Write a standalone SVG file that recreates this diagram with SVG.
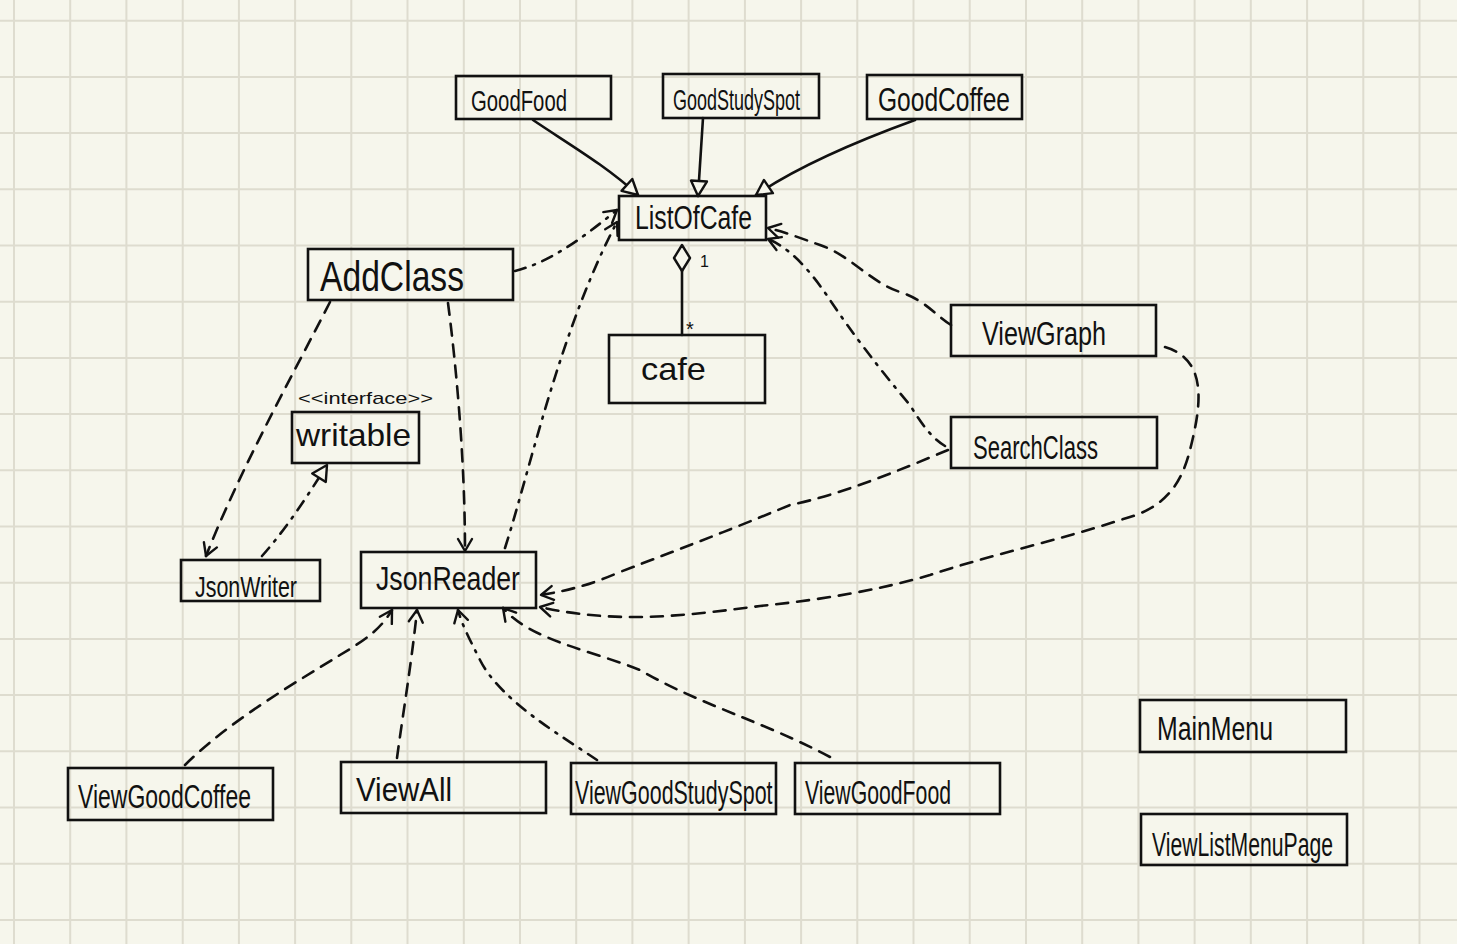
<svg xmlns="http://www.w3.org/2000/svg" width="1457" height="944" viewBox="0 0 1457 944">
<style>
.bg{fill:#f6f6ec}
.grid line{stroke:#dedccf;stroke-width:2}
.box{fill:none;stroke:#111;stroke-width:2.6}
.t{font-family:"Liberation Sans",Arial,sans-serif;fill:#111;font-weight:normal}
.c{fill:none;stroke:#111;stroke-width:2.6;stroke-linecap:round;stroke-linejoin:round}
.d{stroke-dasharray:12 9}
.dd{stroke-dasharray:11 8 2 8}
</style>
<defs>
<marker id="open" viewBox="-14 -9 16 18" refX="0" refY="0" markerWidth="16" markerHeight="18" markerUnits="userSpaceOnUse" orient="auto">
<path d="M-12,-7 L0,0 L-12,7" fill="none" stroke="#111" stroke-width="2.4" stroke-linecap="round" stroke-linejoin="round"/>
</marker>
<marker id="tri" viewBox="-18 -10 20 20" refX="0" refY="0" markerWidth="20" markerHeight="20" markerUnits="userSpaceOnUse" orient="auto">
<path d="M-15,-8 L0,0 L-15,8 Z" fill="#f6f6ec" stroke="#111" stroke-width="2.4" stroke-linejoin="round"/>
</marker>
</defs>
<rect class="bg" x="0" y="0" width="1457" height="944"/>
<g class="grid">
<line x1="14" y1="0" x2="14" y2="944"/><line x1="70.2" y1="0" x2="70.2" y2="944"/><line x1="126.4" y1="0" x2="126.4" y2="944"/><line x1="182.7" y1="0" x2="182.7" y2="944"/><line x1="238.9" y1="0" x2="238.9" y2="944"/><line x1="295.1" y1="0" x2="295.1" y2="944"/><line x1="351.3" y1="0" x2="351.3" y2="944"/><line x1="407.5" y1="0" x2="407.5" y2="944"/><line x1="463.8" y1="0" x2="463.8" y2="944"/><line x1="520" y1="0" x2="520" y2="944"/><line x1="576.2" y1="0" x2="576.2" y2="944"/><line x1="632.4" y1="0" x2="632.4" y2="944"/><line x1="688.6" y1="0" x2="688.6" y2="944"/><line x1="744.9" y1="0" x2="744.9" y2="944"/><line x1="801.1" y1="0" x2="801.1" y2="944"/><line x1="857.3" y1="0" x2="857.3" y2="944"/><line x1="913.5" y1="0" x2="913.5" y2="944"/><line x1="969.7" y1="0" x2="969.7" y2="944"/><line x1="1026" y1="0" x2="1026" y2="944"/><line x1="1082.2" y1="0" x2="1082.2" y2="944"/><line x1="1138.4" y1="0" x2="1138.4" y2="944"/><line x1="1194.6" y1="0" x2="1194.6" y2="944"/><line x1="1250.8" y1="0" x2="1250.8" y2="944"/><line x1="1307.1" y1="0" x2="1307.1" y2="944"/><line x1="1363.3" y1="0" x2="1363.3" y2="944"/><line x1="1419.5" y1="0" x2="1419.5" y2="944"/>
<line x1="0" y1="20.7" x2="1457" y2="20.7"/><line x1="0" y1="76.9" x2="1457" y2="76.9"/><line x1="0" y1="133.1" x2="1457" y2="133.1"/><line x1="0" y1="189.3" x2="1457" y2="189.3"/><line x1="0" y1="245.5" x2="1457" y2="245.5"/><line x1="0" y1="301.7" x2="1457" y2="301.7"/><line x1="0" y1="357.9" x2="1457" y2="357.9"/><line x1="0" y1="414.1" x2="1457" y2="414.1"/><line x1="0" y1="470.3" x2="1457" y2="470.3"/><line x1="0" y1="526.5" x2="1457" y2="526.5"/><line x1="0" y1="582.7" x2="1457" y2="582.7"/><line x1="0" y1="638.9" x2="1457" y2="638.9"/><line x1="0" y1="695.1" x2="1457" y2="695.1"/><line x1="0" y1="751.3" x2="1457" y2="751.3"/><line x1="0" y1="807.5" x2="1457" y2="807.5"/><line x1="0" y1="863.7" x2="1457" y2="863.7"/><line x1="0" y1="919.9" x2="1457" y2="919.9"/>
</g>
<g id="connectors">
<path class="c" d="M533,120 C570,145 605,165 638,195" marker-end="url(#tri)"/>
<path class="c" d="M703,118 L698,196" marker-end="url(#tri)"/>
<path class="c" d="M915,120 C860,140 800,165 756,195" marker-end="url(#tri)"/>
<path class="c" d="M682,335 L682,270"/>
<path d="M682,245 L690,258 L682,271 L674,258 Z" fill="#f6f6ec" stroke="#111" stroke-width="2.4" stroke-linejoin="round"/>
<path class="c dd" d="M515,271 C550,262 580,240 617,210" marker-end="url(#open)"/>
<path class="c dd" d="M505,548 C530,470 560,330 617,222" marker-end="url(#open)"/>
<path class="c d" d="M951,325 C935,315 925,300 900,292 C870,282 850,255 820,245 C800,238 785,232 768,228" marker-end="url(#open)"/>
<path class="c dd" d="M945,446 C935,440 925,430 910,405 C880,370 850,330 830,300 C810,270 790,248 768,239" marker-end="url(#open)"/>
<path class="c d" d="M948,450 C900,470 840,495 790,505 C730,530 690,545 620,572 C590,585 570,590 541,595" marker-end="url(#open)"/>
<path class="c d" d="M1165,347 C1210,360 1200,410 1190,450 C1180,490 1160,510 1120,520 C1060,540 990,555 930,575 C880,590 820,600 760,606 C690,615 620,625 540,607" marker-end="url(#open)"/>
<path class="c d" d="M330,302 C290,380 240,470 206,556" marker-end="url(#open)"/>
<path class="c d" d="M448,303 C458,380 465,470 465,551" marker-end="url(#open)"/>
<path class="c dd" d="M262,556 C285,530 305,500 327,465" marker-end="url(#tri)"/>
<path class="c d" d="M185,765 C230,720 300,680 340,655 C365,640 380,630 392,610" marker-end="url(#open)"/>
<path class="c d" d="M397,758 C402,720 412,660 417,610" marker-end="url(#open)"/>
<path class="c dd" d="M597,760 C560,735 500,700 480,660 C470,640 462,625 458,610" marker-end="url(#open)"/>
<path class="c d" d="M830,757 C760,720 700,705 640,670 C590,650 530,640 503,608" marker-end="url(#open)"/>
</g>
<text class="t" x="700" y="267" font-size="16">1</text>
<text class="t" x="686" y="336" font-size="20">*</text>
<g id="GoodFood"><rect class="box" x="456" y="76" width="155" height="43"/><text class="t" x="471" y="111" font-size="30" textLength="96" lengthAdjust="spacingAndGlyphs">GoodFood</text></g>
<g id="GoodStudySpot"><rect class="box" x="663" y="74" width="156" height="44"/><text class="t" x="673" y="110" font-size="29" textLength="127" lengthAdjust="spacingAndGlyphs">GoodStudySpot</text></g>
<g id="GoodCoffee"><rect class="box" x="867" y="75" width="155" height="44"/><text class="t" x="878" y="111" font-size="34" textLength="132" lengthAdjust="spacingAndGlyphs">GoodCoffee</text></g>
<g id="ListOfCafe"><rect class="box" x="619" y="196" width="147" height="44"/><text class="t" x="635" y="229" font-size="34" textLength="117" lengthAdjust="spacingAndGlyphs">ListOfCafe</text></g>
<g id="AddClass"><rect class="box" x="308" y="249" width="205" height="51"/><text class="t" x="320" y="291" font-size="42" textLength="144" lengthAdjust="spacingAndGlyphs">AddClass</text></g>
<g id="cafe"><rect class="box" x="609" y="335" width="156" height="68"/><text class="t" x="641" y="380" font-size="32" textLength="65" lengthAdjust="spacingAndGlyphs">cafe</text></g>
<g id="ViewGraph"><rect class="box" x="951" y="305" width="205" height="51"/><text class="t" x="982" y="345" font-size="34" textLength="124" lengthAdjust="spacingAndGlyphs">ViewGraph</text></g>
<g id="SearchClass"><rect class="box" x="951" y="417" width="206" height="51"/><text class="t" x="973" y="459" font-size="34" textLength="125" lengthAdjust="spacingAndGlyphs">SearchClass</text></g>
<g id="writable"><text class="t" x="298" y="404" font-size="17" textLength="135" lengthAdjust="spacingAndGlyphs">&lt;&lt;interface&gt;&gt;</text><rect class="box" x="292" y="412" width="127" height="51"/><text class="t" x="296" y="446" font-size="32" textLength="115" lengthAdjust="spacingAndGlyphs">writable</text></g>
<g id="JsonWriter"><rect class="box" x="181" y="560" width="139" height="41"/><text class="t" x="195" y="597" font-size="30" textLength="102" lengthAdjust="spacingAndGlyphs">JsonWriter</text></g>
<g id="JsonReader"><rect class="box" x="361" y="552" width="175" height="56"/><text class="t" x="376" y="590" font-size="34" textLength="144" lengthAdjust="spacingAndGlyphs">JsonReader</text></g>
<g id="ViewGoodCoffee"><rect class="box" x="68" y="768" width="205" height="52"/><text class="t" x="78" y="808" font-size="33" textLength="173" lengthAdjust="spacingAndGlyphs">ViewGoodCoffee</text></g>
<g id="ViewAll"><rect class="box" x="341" y="762" width="205" height="51"/><text class="t" x="356" y="801" font-size="33" textLength="96" lengthAdjust="spacingAndGlyphs">ViewAll</text></g>
<g id="ViewGoodStudySpot"><rect class="box" x="571" y="763" width="205" height="51"/><text class="t" transform="translate(575,804) scale(0.65,1)" x="0" y="0" font-size="33">ViewGoodStudySpot</text></g>
<g id="ViewGoodFood"><rect class="box" x="795" y="763" width="205" height="51"/><text class="t" x="805" y="804" font-size="33" textLength="146" lengthAdjust="spacingAndGlyphs">ViewGoodFood</text></g>
<g id="MainMenu"><rect class="box" x="1140" y="700" width="206" height="52"/><text class="t" x="1157" y="740" font-size="33" textLength="116" lengthAdjust="spacingAndGlyphs">MainMenu</text></g>
<g id="ViewListMenuPage"><rect class="box" x="1141" y="814" width="206" height="51"/><text class="t" x="1152" y="856" font-size="33" textLength="181" lengthAdjust="spacingAndGlyphs">ViewListMenuPage</text></g>
</svg>
